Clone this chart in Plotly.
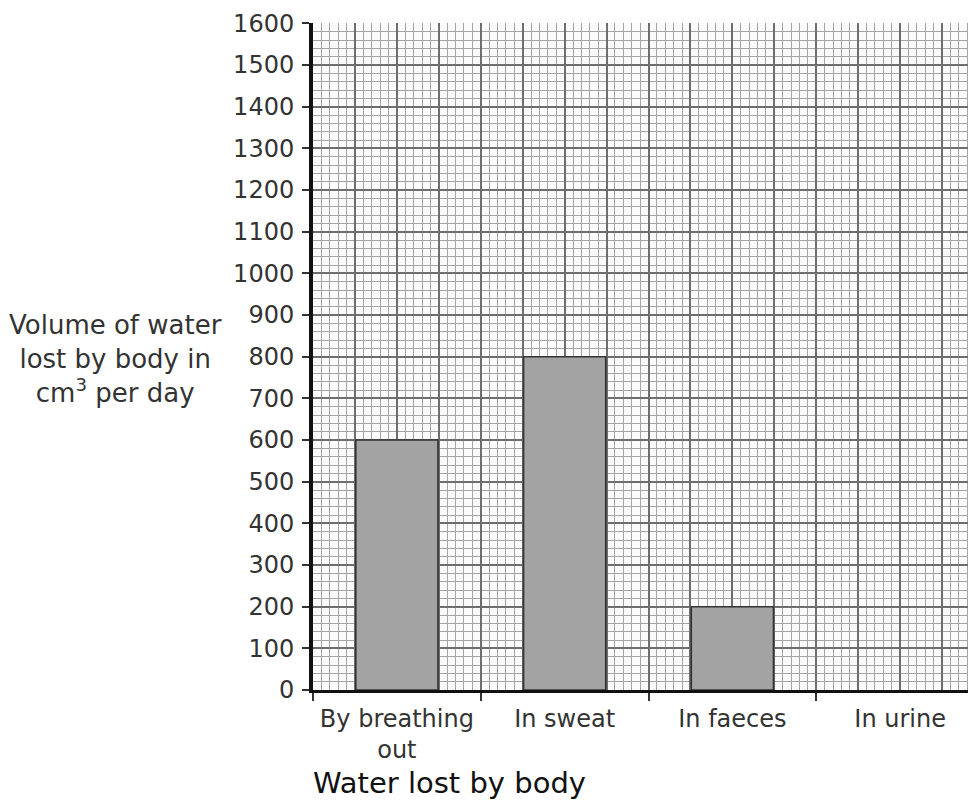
import plotly.graph_objects as go

categories = ["By breathing<br>out", "In sweat", "In faeces", "In urine"]
water_lost = [600, 800, 200, None]
y_ticks = list(range(0, 1700, 100))

FONT = "DejaVu Sans"

fig = go.Figure()
fig.add_trace(go.Bar(
    x=categories, y=water_lost, width=0.49,
    marker=dict(color="#a3a3a3", line=dict(color="#333333", width=1.6)),
    showlegend=False, hoverinfo="skip",
))
# companion trace carrying the graph-paper grid axis
fig.add_trace(go.Scatter(x=[0], y=[0], xaxis="x2", mode="markers",
                         marker=dict(opacity=0), showlegend=False, hoverinfo="skip"))

fig.update_layout(
    width=976, height=807,
    margin=dict(l=305, r=0, t=15, b=125),
    paper_bgcolor="white", plot_bgcolor="#fbfbfb",
    font=dict(family=FONT, color="#2a2a2a"),
    xaxis=dict(
        type="category", range=[-0.5, 3.5],
        showgrid=False, zeroline=False,
        showline=True, linecolor="#111111", linewidth=3,
        ticks="outside", tickson="boundaries", ticklen=8, tickwidth=1.5, tickcolor="#333333",
        ticklabelstandoff=5,
        tickfont=dict(size=24, family=FONT, color="#333333"),
    ),
    xaxis2=dict(
        overlaying="x", anchor="y", type="linear", range=[-0.5, 3.5],
        showticklabels=False, ticks="", showline=False, zeroline=False,
        tickmode="linear", tick0=-0.5, dtick=0.25,
        showgrid=True, gridcolor="#6e6e6e", gridwidth=1.6,
        minor=dict(tickmode="linear", tick0=-0.5, dtick=0.05, showgrid=True,
                   gridcolor="#a4a4a4", gridwidth=1.3),
    ),
    yaxis=dict(
        range=[0, 1601], tickvals=y_ticks,
        showgrid=True, gridcolor="#6e6e6e", gridwidth=1.6, zeroline=False,
        minor=dict(tickmode="linear", tick0=0, dtick=20, showgrid=True,
                   gridcolor="#a4a4a4", gridwidth=1.3),
        showline=True, linecolor="#111111", linewidth=4,
        ticks="outside", ticklen=7, tickwidth=1.5, tickcolor="#333333",
        ticklabelstandoff=3,
        tickfont=dict(size=24, family=FONT, color="#333333"),
    ),
    annotations=[
        dict(text="Volume of water<br>lost by body in<br>cm<sup>3</sup> per day",
             xref="paper", yref="paper", x=-0.295, y=0.497, xanchor="center", yanchor="middle",
             showarrow=False, font=dict(size=26, family=FONT, color="#333333")),
        dict(text="Water lost by body",
             xref="paper", yref="paper", x=0.204, y=-0.139, xanchor="center", yanchor="middle",
             showarrow=False, font=dict(size=29, family=FONT, color="#111111")),
    ],
)

fig.write_html("out.html")
